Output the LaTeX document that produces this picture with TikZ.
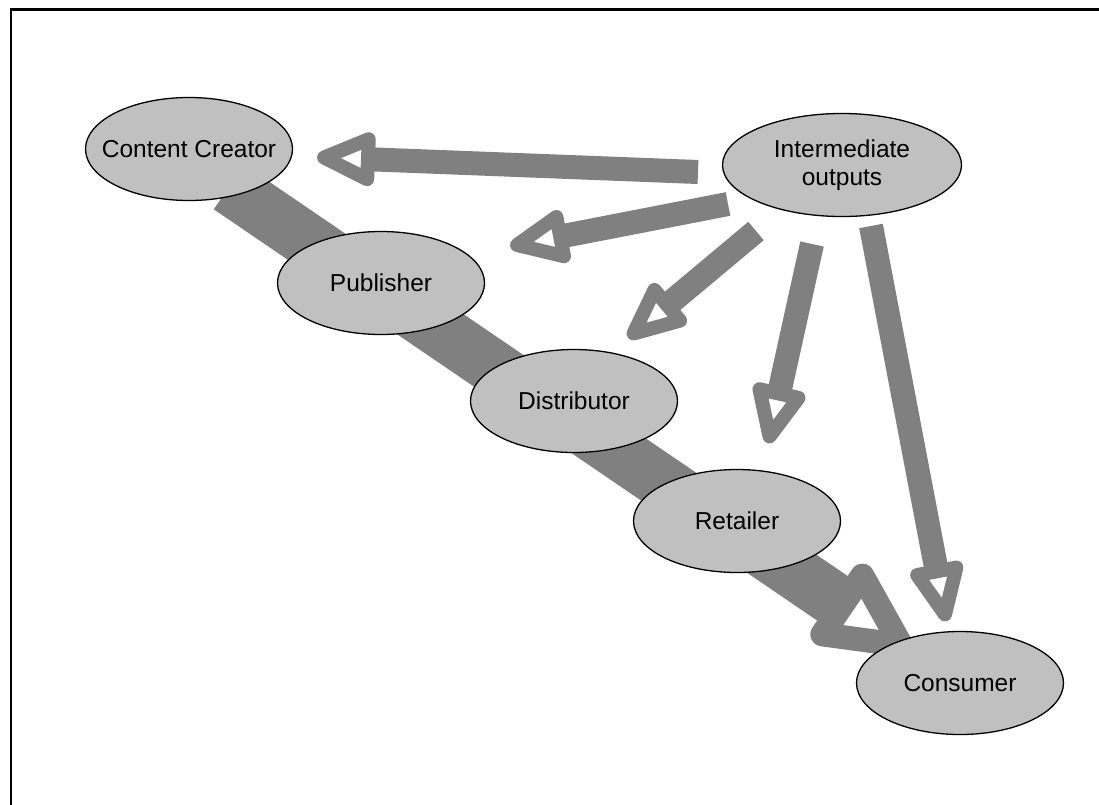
\documentclass[tikz,border=0pt]{standalone}
\usepackage{fontspec}
\setmainfont{Liberation Sans}
\usetikzlibrary{shapes.geometric,calc,backgrounds}
\definecolor{arrowgray}{RGB}{128,128,128}
\definecolor{nodegray}{RGB}{192,192,192}
\tikzset{
  ent/.style={ellipse, draw=black, line width=1.3pt, fill=nodegray,
    minimum width=207pt, minimum height=103pt, inner sep=0pt,
    font=\fontsize{24.5}{28}\selectfont},
  oneline/.style={text height=17.5pt, text depth=0pt},
  shaftline/.style={draw=arrowgray, line cap=butt},
  headtri/.style={draw=arrowgray, fill=white, line join=round},
}
% #1 start, #2 tip, #3 shaft width, #4 head length, #5 head half width, #6 head stroke
\newcommand{\drawopenarrow}[6]{%
  \path ($(#2)!#4!(#1)$) coordinate (bk);
  \draw[shaftline, line width=#3] (#1) -- (bk);
  \filldraw[headtri, line width=#6] (#2) -- ($(bk)!#5!90:(#2)$) -- ($(bk)!#5!-90:(#2)$) -- cycle;
}
\begin{document}
\begin{tikzpicture}[x=1pt,y=-1pt]
\useasboundingbox (0,0) rectangle (1099,804);
\draw[line width=2.2pt, black] (11,9.5) rectangle (1130,830);

\node[ent, oneline] (cc) at (189,149) {\makebox[0pt]{Content Creator}};
\node[ent, oneline] (pub) at (381,283) {\makebox[0pt]{Publisher}};
\node[ent, oneline] (dist) at (574,401) {\makebox[0pt]{Distributor}};
\node[ent, oneline] (ret) at (737,521) {\makebox[0pt]{Retailer}};
\node[ent, oneline] (con) at (960,683) {\makebox[0pt]{Consumer}};
\node[ent, minimum width=239pt] (int) at (842,165) {\makebox[0pt]{\parbox{220pt}{\centering Intermediate\\outputs}}};

\coordinate (s0) at (229,187);   \coordinate (t0) at (901,645);
\coordinate (s1) at (698,172);   \coordinate (t1) at (324,157.5);
\coordinate (s2) at (728,204);   \coordinate (t2) at (517,245);
\coordinate (s3) at (756,231);   \coordinate (t3) at (633.5,333.5);
\coordinate (s4) at (812,244);   \coordinate (t4) at (769.5,436.5);
\coordinate (s5) at (871,226);   \coordinate (t5) at (945,614.5);

\begin{scope}[on background layer]
  \drawopenarrow{s0}{t0}{54pt}{71pt}{35.5pt}{24pt}
  \drawopenarrow{s1}{t1}{24pt}{44pt}{20pt}{14pt}
  \drawopenarrow{s2}{t2}{24pt}{44pt}{20pt}{14pt}
  \drawopenarrow{s3}{t3}{24pt}{44pt}{20pt}{14pt}
  \drawopenarrow{s4}{t4}{24pt}{44pt}{20pt}{14pt}
  \drawopenarrow{s5}{t5}{24pt}{44pt}{20pt}{14pt}
\end{scope}
\end{tikzpicture}
\end{document}
